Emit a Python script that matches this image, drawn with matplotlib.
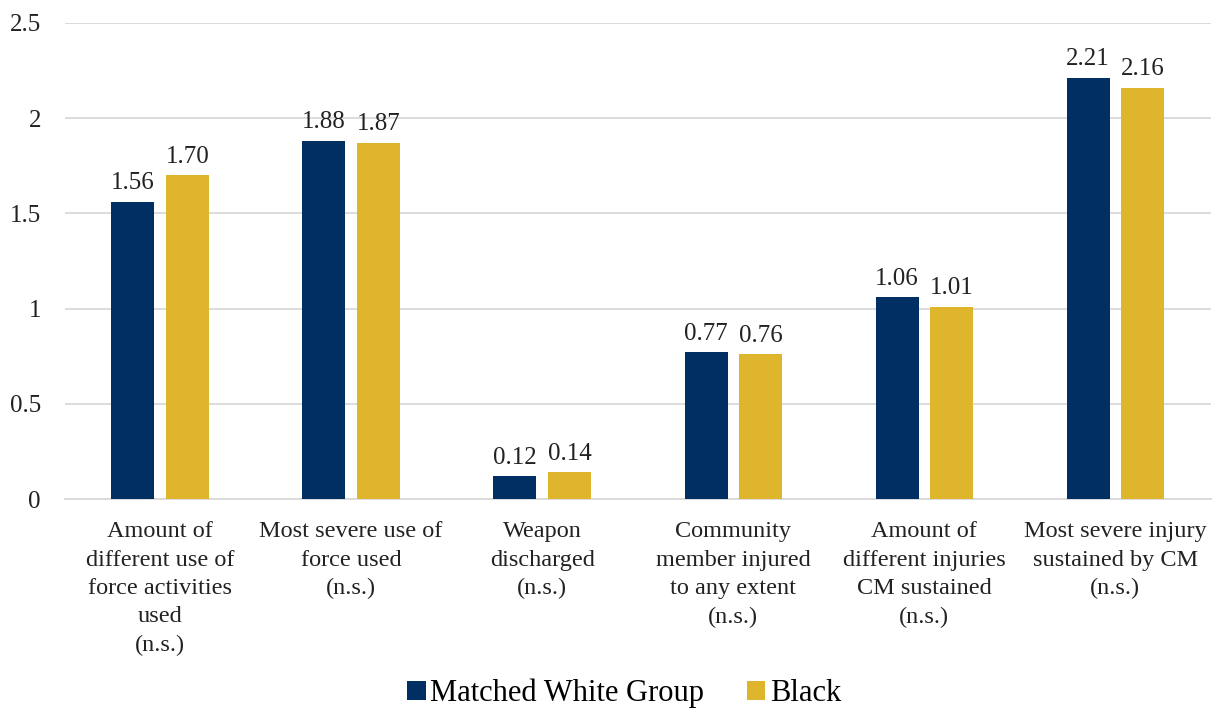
import numpy as np
import matplotlib.pyplot as plt

categories = [
    "Amount of\ndifferent use of\nforce activities\nused\n(n.s.)",
    "Most severe use of\nforce used\n(n.s.)",
    "Weapon\ndischarged\n(n.s.)",
    "Community\nmember injured\nto any extent\n(n.s.)",
    "Amount of\ndifferent injuries\nCM sustained\n(n.s.)",
    "Most severe injury\nsustained by CM\n(n.s.)",
]
white_vals = [1.56, 1.88, 0.12, 0.77, 1.06, 2.21]
black_vals = [1.70, 1.87, 0.14, 0.76, 1.01, 2.16]

navy = '#003063'
gold = '#DEB52C'
plt.rcParams['font.family'] = ['Liberation Serif', 'DejaVu Serif']

fig = plt.figure(figsize=(12.17, 7.12), dpi=100)
ax = fig.add_axes([0.053, 0.299, 0.942, 0.669])

x = np.arange(len(categories))
w = 0.225
gap = 0.06
b1 = ax.bar(x - (w + gap) / 2, white_vals, w, color=navy, label='Matched White Group', zorder=3)
b2 = ax.bar(x + (w + gap) / 2, black_vals, w, color=gold, label='Black', zorder=3)

for bars in (b1, b2):
    for r in bars:
        ax.text(r.get_x() + r.get_width() / 2, r.get_height() + 0.04, f"{r.get_height():.2f}",
                ha='center', va='bottom', fontsize=18, color='#222222')

ax.set_ylim(0, 2.5)
ax.set_xlim(-0.5, len(categories) - 0.5)
ax.set_yticks([0, 0.5, 1, 1.5, 2, 2.5])
ax.set_yticklabels(['0', '0.5', '1', '1.5', '2', '2.5'], fontsize=18)
ax.yaxis.grid(True, color='#d9d9d9', lw=1.3, zorder=0)
ax.set_xticks(x)
ax.set_xticklabels(categories, fontsize=17.5, linespacing=1.46)
ax.tick_params(axis='both', length=0, colors='#222222')
ax.tick_params(axis='y', pad=17)
ax.tick_params(axis='x', pad=16)
for s in ['top', 'right', 'left']:
    ax.spines[s].set_visible(False)
ax.spines['bottom'].set_color('#d9d9d9')
ax.spines['bottom'].set_linewidth(1.3)

fig.legend(handles=[b1, b2], loc='center', bbox_to_anchor=(0.513, 0.026), ncol=2,
           frameon=False, fontsize=22, handlelength=0.6, handleheight=0.6,
           columnspacing=1.4, handletextpad=0.15, borderpad=0)

fig.savefig('out.png', dpi=100)
